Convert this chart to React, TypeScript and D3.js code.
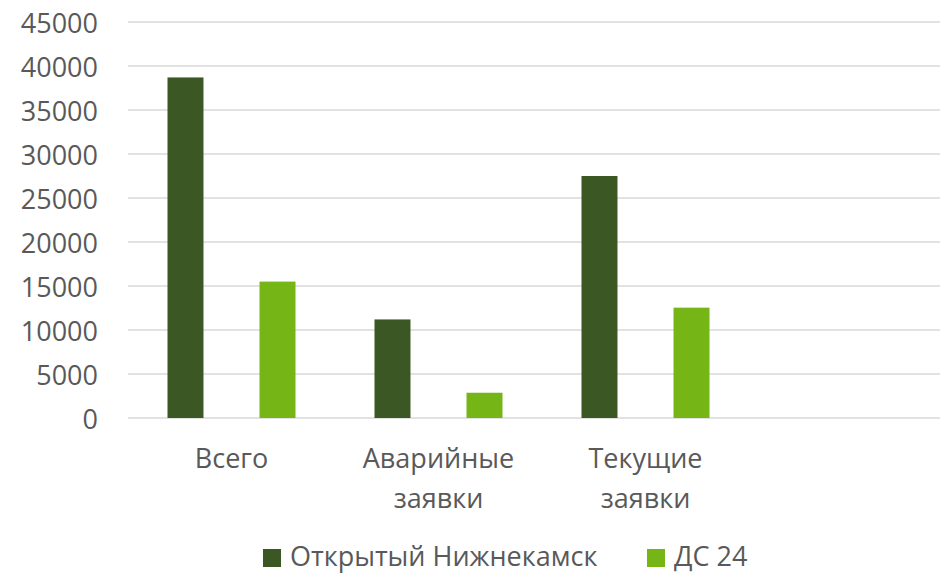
import React, { useEffect, useRef } from "react";
import * as d3 from "d3";

const categories = ["Всего", "Аварийные заявки", "Текущие заявки", ""];
const seriesNames = ["Открытый Нижнекамск", "ДС 24"];
const nizhnekamsk = [38700, 11200, 27500];
const ds24 = [15500, 2870, 12540];
const yTicks = [0, 5000, 10000, 15000, 20000, 25000, 30000, 35000, 40000, 45000];
const colors = ["#3B5723", "#75B516"];

const W = 940;
const H = 574;

export default function App() {
  const ref = useRef<SVGSVGElement>(null);

  useEffect(() => {
    const svg = d3.select(ref.current);
    svg.selectAll("*").remove();
    const font = "'Open Sans', sans-serif";

    const x = d3.scaleBand().domain(categories).range([128, 956]);
    const inner = d3.scaleBand().domain(seriesNames).range([39.5, 167.5]).paddingInner(0.609);
    const y = d3.scaleLinear().domain([0, 45000]).range([418, 22]);

    // gridlines
    svg.append("g")
      .selectAll("line")
      .data(yTicks)
      .join("line")
      .attr("x1", 128)
      .attr("x2", W)
      .attr("y1", (d) => y(d))
      .attr("y2", (d) => y(d))
      .attr("stroke", "#D9D9D9")
      .attr("stroke-width", 1.5);

    // y labels
    svg.append("g")
      .selectAll("text")
      .data(yTicks)
      .join("text")
      .attr("x", 98)
      .attr("y", (d) => y(d))
      .attr("dy", "0.4em")
      .attr("text-anchor", "end")
      .attr("font-family", font)
      .attr("font-size", 27)
      .attr("fill", "#595959")
      .text((d) => d);

    const series = [nizhnekamsk, ds24];
    series.forEach((vals, si) => {
      svg.append("g")
        .selectAll("rect")
        .data(vals)
        .join("rect")
        .attr("x", (_, i) => (x(categories[i]) as number) + (inner(seriesNames[si]) as number))
        .attr("width", inner.bandwidth())
        .attr("y", (d) => y(d))
        .attr("height", (d) => y(0) - y(d))
        .attr("fill", colors[si]);
    });

    // category labels
    const cat = svg.append("g")
      .selectAll("text")
      .data(categories.filter((c) => c))
      .join("text")
      .attr("text-anchor", "middle")
      .attr("font-family", font)
      .attr("font-size", 27)
      .attr("fill", "#595959");
    cat.each(function (d) {
      const t = d3.select(this);
      const cx = (x(d) as number) + x.bandwidth() / 2;
      d.split(" ").forEach((w, li) => {
        t.append("tspan").attr("x", cx).attr("y", 468 + li * 40).text(w);
      });
    });

    // legend
    const legendX = [263, 647];
    const lg = svg.append("g")
      .selectAll("g")
      .data(seriesNames)
      .join("g")
      .attr("transform", (_, i) => `translate(${legendX[i]},549)`);
    lg.append("rect").attr("width", 18).attr("height", 18).attr("fill", (_, i) => colors[i]);
    lg.append("text")
      .attr("x", 27)
      .attr("y", 17)
      .attr("font-family", font)
      .attr("font-size", 27)
      .attr("fill", "#595959")
      .text((d) => d);
  }, []);

  return (
    <svg
      ref={ref}
      width={W}
      height={H}
      style={{ position: "absolute", left: 0, top: 0, background: "#fff" }}
    />
  );
}
